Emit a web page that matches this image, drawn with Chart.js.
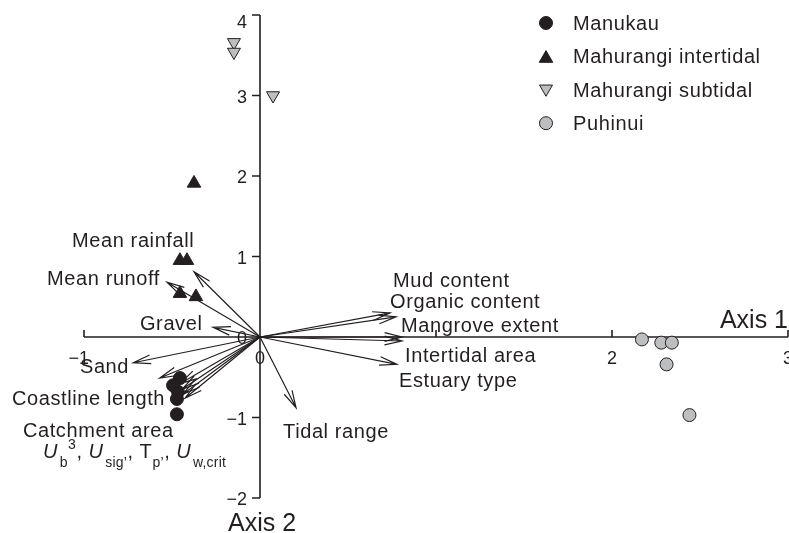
<!DOCTYPE html>
<html lang="en">
<head>
<meta charset="UTF-8">
<title>Ordination biplot</title>
<script src="https://cdn.jsdelivr.net/npm/chart.js@4.4.0/dist/chart.umd.min.js"></script>
<style>
  html, body { margin: 0; padding: 0; background: #fff; }
  .chart-box { width: 789px; height: 533px; position: relative; }
</style>
</head>
<body>
<div class="chart-box"><canvas id="biplot"></canvas></div>
<script>
// site scores, one pair of arrays per group
const manukauX = [-0.455, -0.494, -0.466, -0.472, -0.472];
const manukauY = [-0.51, -0.60, -0.68, -0.77, -0.96];
const intertidalX = [-0.375, -0.455, -0.415, -0.455, -0.364];
const intertidalY = [1.91, 0.95, 0.95, 0.54, 0.50];
const subtidalX = [-0.148, -0.148, 0.074];
const subtidalY = [3.66, 3.54, 3.00];
const puhinuiX = [2.17, 2.28, 2.34, 2.31, 2.44];
const puhinuiY = [-0.03, -0.07, -0.07, -0.34, -0.97];

// environmental vectors (arrow tips, drawn from the origin)
const vectorX = [-0.375, -0.528, -0.267, -0.72, -0.57, -0.455, -0.443, -0.438, -0.426, 0.739, 0.773, 0.807, 0.807, 0.778, 0.205];
const vectorY = [0.81, 0.68, 0.12, -0.32, -0.51, -0.58, -0.65, -0.71, -0.76, 0.30, 0.25, 0.0, -0.05, -0.34, -0.88];

// axes
const xRange = [-1, 3];
const yRange = [-2, 4];
const xTickMarks = [-1, 1, 2, 3];
const xTickLabels = [-1, 0, 2, 3];
const yTicks = [-2, -1, 0, 1, 2, 3, 4];

// vector labels: text, anchor in data units (left edge, baseline)
const labelText = ['Mean rainfall', 'Mean runoff', 'Gravel', 'Sand', 'Coastline length', 'Catchment area',
  'Tidal range', 'Mud content', 'Organic content', 'Mangrove extent', 'Intertidal area', 'Estuary type'];
const labelX = [-1.068, -1.21, -0.682, -1.023, -1.409, -1.347, 0.131, 0.756, 0.739, 0.801, 0.824, 0.79];
const labelY = [1.112, 0.646, 0.087, -0.447, -0.845, -1.242, -1.255, 0.621, 0.360, 0.062, -0.311, -0.621];

const INK = '#231f20';
const GREY = '#bdbebf';
const FONT = '"Liberation Sans", Arial, Helvetica, sans-serif';

const groups = [
  { label: 'Manukau', xs: manukauX, ys: manukauY, style: 'circle', rot: 0, fill: INK, r: 6.5 },
  { label: 'Mahurangi intertidal', xs: intertidalX, ys: intertidalY, style: 'triangle', rot: 0, fill: INK, r: 7.8 },
  { label: 'Mahurangi subtidal', xs: subtidalX, ys: subtidalY, style: 'triangle', rot: 180, fill: GREY, r: 7.5 },
  { label: 'Puhinui', xs: puhinuiX, ys: puhinuiY, style: 'circle', rot: 0, fill: GREY, r: 6.5 }
];

function arrow(ctx, x0, y0, x1, y1) {
  const ang = Math.atan2(y1 - y0, x1 - x0);
  const len = 18, spread = 14 * Math.PI / 180;
  ctx.beginPath();
  ctx.moveTo(x0, y0);
  ctx.lineTo(x1, y1);
  ctx.moveTo(x1 - len * Math.cos(ang - spread), y1 - len * Math.sin(ang - spread));
  ctx.lineTo(x1, y1);
  ctx.lineTo(x1 - len * Math.cos(ang + spread), y1 - len * Math.sin(ang + spread));
  ctx.stroke();
}

function fmt(v) {
  return v < 0 ? '\u2212' + Math.abs(v) : String(v);
}

// writes the U_b^3, U_sig', T_p', U_w,crit line piece by piece
function formula(ctx, x, y) {
  const parts = [
    ['U', 'italic', 20, 0], ['b', '', 14, 9], ['3', '', 14, -9], [', ', '', 20, 0],
    ['U', 'italic', 20, 0], ['sig\u2019', '', 14, 9], [', ', '', 20, 0],
    ['T', '', 20, 0], ['p\u2019', '', 14, 9], [', ', '', 20, 0],
    ['U', 'italic', 20, 0], ['w,crit', '', 14, 9]
  ];
  let cx = x;
  parts.forEach(([t, st, size, dy]) => {
    ctx.font = `${st} ${size}px ${FONT}`;
    ctx.fillText(t, cx, y + dy);
    cx += ctx.measureText(t).width + (st === 'italic' ? 2 : 0.5);
  });
}

const biplotPlugin = {
  id: 'biplot',
  beforeDatasetsDraw(chart) {
    const { ctx, scales: { x, y } } = chart;
    const ox = x.getPixelForValue(0), oy = y.getPixelForValue(0);
    ctx.save();
    ctx.strokeStyle = INK;
    ctx.lineWidth = 1.6;
    ctx.beginPath();
    ctx.moveTo(x.getPixelForValue(xRange[0]), oy);
    ctx.lineTo(x.getPixelForValue(xRange[1]), oy);
    ctx.moveTo(ox, y.getPixelForValue(yRange[0]));
    ctx.lineTo(ox, y.getPixelForValue(yRange[1]));
    xTickMarks.forEach(v => {
      const px = x.getPixelForValue(v);
      ctx.moveTo(px, oy);
      ctx.lineTo(px, oy - 7);
    });
    yTicks.forEach(v => {
      const py = y.getPixelForValue(v);
      ctx.moveTo(ox, py);
      ctx.lineTo(ox - 8, py);
    });
    ctx.stroke();

    ctx.lineWidth = 1.2;
    vectorX.forEach((vx, i) => {
      arrow(ctx, ox, oy, x.getPixelForValue(vx), y.getPixelForValue(vectorY[i]));
    });
    ctx.restore();
  },
  afterDatasetsDraw(chart) {
    const { ctx, scales: { x, y }, chartArea } = chart;
    const ox = x.getPixelForValue(0), oy = y.getPixelForValue(0);
    ctx.save();
    ctx.fillStyle = INK;
    ctx.textBaseline = 'alphabetic';

    // tick labels
    ctx.font = `18px ${FONT}`;
    ctx.textAlign = 'center';
    xTickLabels.forEach(v => {
      const shift = v < 0 ? ctx.measureText('\u2212').width / 2 : 0;
      ctx.fillText(fmt(v), x.getPixelForValue(v) - shift, oy + 27);
    });
    ctx.textAlign = 'right';
    yTicks.forEach(v => {
      const py = Math.max(y.getPixelForValue(v), chartArea.top + 6);
      ctx.fillText(fmt(v), ox - 13, py + 7);
    });

    // vector labels
    ctx.font = `20px ${FONT}`;
    ctx.letterSpacing = '0.6px';
    ctx.textAlign = 'left';
    labelText.forEach((t, i) => {
      ctx.fillText(t, x.getPixelForValue(labelX[i]), y.getPixelForValue(labelY[i]));
    });
    ctx.letterSpacing = '0.2px';
    formula(ctx, x.getPixelForValue(-1.233), y.getPixelForValue(-1.503));

    // axis titles
    ctx.letterSpacing = '0px';
    ctx.font = `25px ${FONT}`;
    ctx.textAlign = 'right';
    ctx.fillText('Axis 1', x.getPixelForValue(xRange[1]), oy - 9);
    ctx.textAlign = 'left';
    ctx.fillText('Axis 2', ox - 32, y.getPixelForValue(yRange[0]) + 33);

    // legend
    ctx.font = `20px ${FONT}`;
    ctx.letterSpacing = '0.6px';
    groups.forEach((g, i) => {
      const ly = 23 + i * 33.4;
      ctx.strokeStyle = INK;
      ctx.fillStyle = g.fill;
      ctx.lineWidth = 1;
      Chart.helpers.drawPoint(ctx, { pointStyle: g.style, rotation: g.rot, radius: g.r, borderWidth: 1 }, 546, ly + (g.style === 'triangle' ? (g.rot ? -1 : 2) : 0));
      ctx.fillStyle = INK;
      ctx.fillText(g.label, 573, ly + 7);
    });
    ctx.restore();
  }
};

new Chart(document.getElementById('biplot'), {
  type: 'scatter',
  data: {
    datasets: groups.map(g => ({
      label: g.label,
      data: g.xs.map((v, i) => ({ x: v, y: g.ys[i] })),
      pointStyle: g.style,
      rotation: g.rot,
      pointRadius: g.r,
      backgroundColor: g.fill,
      borderColor: INK,
      borderWidth: 1,
      clip: false
    }))
  },
  options: {
    responsive: true,
    maintainAspectRatio: false,
    animation: false,
    events: [],
    layout: { autoPadding: false, padding: { left: 84, right: 1, top: 15, bottom: 35 } },
    scales: {
      x: { type: 'linear', min: xRange[0], max: xRange[1], display: false },
      y: { type: 'linear', min: yRange[0], max: yRange[1], display: false }
    },
    plugins: { legend: { display: false }, tooltip: { enabled: false } }
  },
  plugins: [biplotPlugin]
});
</script>
</body>
</html>
